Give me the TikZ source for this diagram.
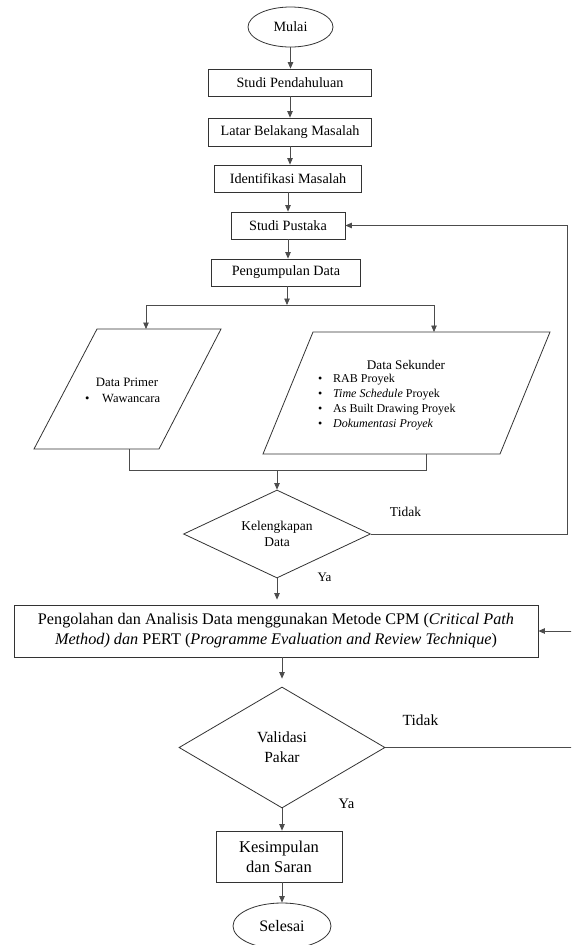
\documentclass[tikz,border=0pt]{standalone}
\usepackage{fontspec}
\setmainfont{Liberation Serif}
\usetikzlibrary{shapes.geometric,arrows.meta}
\begin{document}
\begin{tikzpicture}[x=1pt,y=-1pt,
  ln/.style={draw=black!70, line width=0.8pt},
  arr/.style={ln, -{Triangle[length=6.5pt,width=5.5pt]}},
  box/.style={draw=black!80, line width=0.8pt, rectangle, inner sep=0pt, align=center, font=\fontsize{14.2}{17}\selectfont},
  term/.style={draw=black!80, line width=0.8pt, ellipse, inner sep=0pt},
  dec/.style={draw=black!80, line width=0.8pt, diamond, inner sep=0pt, align=center},
  io/.style={draw=black!80, line width=0.8pt},
  lbl/.style={inner sep=0pt, font=\fontsize{14}{16}\selectfont}
]
\clip (0,0) rectangle (571,945);
\fill[white] (0,0) rectangle (571,945);

% top chain
\node[term, minimum width=85pt, minimum height=40pt, font=\fontsize{14.2}{17}\selectfont] (mulai) at (290.5,27) {Mulai};
\node[box, minimum width=163.5pt, minimum height=27pt] (sp) at (290,82.5) {Studi Pendahuluan};
\node[box, minimum width=163.5pt, minimum height=28pt] (lb) at (290,132) {Latar Belakang Masalah};
\node[box, minimum width=147.5pt, minimum height=27pt] (im) at (288,178.5) {Identifikasi Masalah};
\node[box, minimum width=114pt, minimum height=27pt] (spu) at (288,225.5) {Studi Pustaka};
\node[box, minimum width=148.5pt, minimum height=27pt] (pd) at (286,272.5) {Pengumpulan Data};

\draw[arr] (mulai.south) -- (mulai.south |- sp.north);
\draw[arr] (sp.south) -- (sp.south |- lb.north);
\draw[arr] (lb.south) -- (lb.south |- im.north);
\draw[arr] (im.south) -- (im.south |- spu.north);
\draw[arr] (spu.south) -- (spu.south |- pd.north);

% split
\coordinate (j1) at (287,305);
\coordinate (dpTop) at (146,329);
\coordinate (dsTop) at (434,332);
\draw[arr] (pd.south -| j1) -- (j1);
\draw[arr] (j1) -| (dpTop);
\draw[arr] (j1) -| (dsTop);

% parallelograms
\draw[io] (97,329) -- (221,329) -- (159,449) -- (34,449) -- cycle;
\draw[io] (313,332) -- (550,332) -- (500,454) -- (263,454) -- cycle;

\node[inner sep=0pt, font=\fontsize{12.8}{15}\selectfont] (dph) at (127,382) {Data Primer};
\node[inner sep=0pt, anchor=west, font=\fontsize{12.5}{15}\selectfont] (dpl) at (85,398) {\makebox[17pt][l]{\textbullet}Wawancara};

\node[inner sep=0pt, font=\fontsize{13.2}{15}\selectfont] (dsh) at (406,365) {Data Sekunder};
\node[inner sep=0pt, anchor=west, align=left, font=\fontsize{12}{15}\selectfont] (dsl) at (318,402.5)
  {\makebox[15pt][l]{\textbullet}RAB Proyek\\
   \makebox[15pt][l]{\textbullet}\textit{Time Schedule} Proyek\\
   \makebox[15pt][l]{\textbullet}As Built Drawing Proyek\\
   \makebox[15pt][l]{\textbullet}\textit{Dokumentasi Proyek}};

% merge
\coordinate (dpBot) at (129,449);
\coordinate (dsBot) at (426,454);
\coordinate (j2) at (277,470);
\draw[ln] (dpBot) |- (dsBot |- j2) -- (dsBot);

% Kelengkapan Data
\node[dec, minimum width=187pt, minimum height=88pt, aspect=2.1, font=\fontsize{13.5}{16}\selectfont] (kd) at (277,534) {Kelengkapan\\Data};
\draw[arr] (j2) -- (kd.north);
\coordinate (r1) at (567,534);
\draw[arr] (kd.east) -- (r1) |- (spu.east);
\node[lbl, font=\fontsize{13.5}{16}\selectfont] (t1) at (405.5,512) {Tidak};
\node[lbl, font=\fontsize{13}{16}\selectfont] (y1) at (324.5,577) {Ya};

% processing box
\node[box, minimum width=524pt, minimum height=52pt, font=\fontsize{16.2}{20}\selectfont] (pa) at (276,631)
  {Pengolahan dan Analisis Data menggunakan Metode CPM (\textit{Critical Path}\\
   \textit{Method) dan} PERT (\textit{Programme Evaluation and Review Technique})};
\draw[arr, shorten >=5pt] (kd.south) -- (kd.south |- pa.north);

% Validasi Pakar
\node[dec, minimum width=206pt, minimum height=121pt, aspect=1.7, font=\fontsize{15.5}{20}\selectfont] (vd) at (282,747.5) {Validasi\\Pakar};
\draw[arr, shorten >=8pt] (vd.north |- pa.south) -- (vd.north);
\coordinate (r2) at (578,747.5);
\draw[arr] (vd.east) -- (r2) |- (pa.east);
\node[lbl, font=\fontsize{15.5}{18}\selectfont] (t2) at (420.5,720) {Tidak};
\node[lbl, font=\fontsize{14.6}{18}\selectfont] (y2) at (346.5,804) {Ya};

% end
\node[box, minimum width=126pt, minimum height=51pt, font=\fontsize{16.5}{20}\selectfont] (ks) at (279,856.5) {Kesimpulan\\dan Saran};
\draw[arr] (vd.south) -- (vd.south |- ks.north);
\node[term, minimum width=98pt, minimum height=46pt, font=\fontsize{16}{19}\selectfont] (se) at (282,926) {Selesai};
\draw[arr] (ks.south -| se.north) -- (se.north);
\end{tikzpicture}
\end{document}
